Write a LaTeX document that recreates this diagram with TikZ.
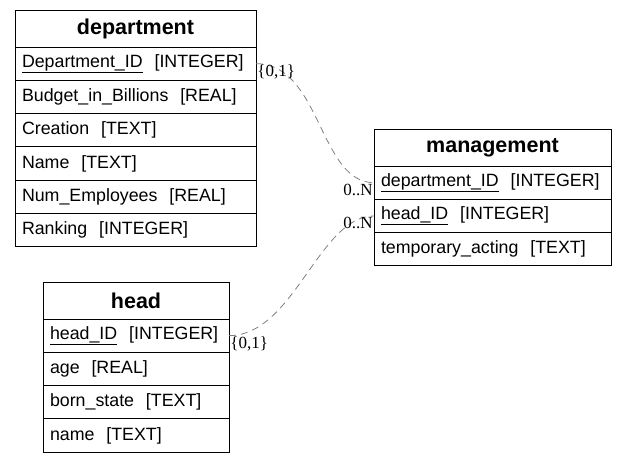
\documentclass[tikz,border=0pt]{standalone}
\usepackage{fontspec}
\setmainfont{Liberation Sans}
\newfontfamily\cardfont{Liberation Serif}
\usetikzlibrary{positioning}
\hyphenpenalty=10000

\tikzset{
  tablehead/.style={draw, line width=1pt, outer sep=0pt, inner sep=0pt,
    minimum width=#1, minimum height=37pt,
    font=\bfseries\fontsize{21.5}{25}\selectfont},
  field/.style={draw, line width=1pt, outer sep=0pt, inner xsep=7pt, inner ysep=0pt,
    text width=#1, minimum height=33.3pt, align=left,
    font=\fontsize{17.8}{21}\selectfont},
  card/.style={inner sep=1pt, text=black, font=\cardfont\fontsize{17}{20}\selectfont},
  link/.style={gray, line width=0.8pt, dash pattern=on 7pt off 5pt}
}

\begin{document}
\begin{tikzpicture}[x=1pt, y=-1pt] % one unit = one pixel, y downwards

    \useasboundingbox (0,0) rectangle (628,464);

    % department table
    \node[tablehead=241pt, anchor=north west] (dept) at (15,10) {department};
    \node[field=227pt, below=0pt of dept] (deptID) {\underline{Department\_ID}~~[INTEGER]};
    \node[field=227pt, below=0pt of deptID] (deptBudget) {Budget\_in\_Billions~~[REAL]};
    \node[field=227pt, below=0pt of deptBudget] (deptCreation) {Creation~~[TEXT]};
    \node[field=227pt, below=0pt of deptCreation] (deptName) {Name~~[TEXT]};
    \node[field=227pt, below=0pt of deptName] (deptNum) {Num\_Employees~~[REAL]};
    \node[field=227pt, below=0pt of deptNum] (deptRank) {Ranking~~[INTEGER]};

    % management table
    \node[tablehead=237pt, anchor=north west] (mg) at (374,129) {management};
    \node[field=223pt, below=0pt of mg] (mgDeptID) {\underline{department\_ID}~~[INTEGER]};
    \node[field=223pt, below=0pt of mgDeptID] (mgHeadID) {\underline{head\_ID}~~[INTEGER]};
    \node[field=223pt, below=0pt of mgHeadID] (mgTemp) {temporary\_acting~~[TEXT]};

    % head table
    \node[tablehead=186pt, anchor=north west] (head) at (43,282) {head};
    \node[field=172pt, below=0pt of head] (headID) {\underline{head\_ID}~~[INTEGER]};
    \node[field=172pt, below=0pt of headID] (headAge) {age~~[REAL]};
    \node[field=172pt, below=0pt of headAge] (headBorn) {born\_state~~[TEXT]};
    \node[field=172pt, below=0pt of headBorn] (headName) {name~~[TEXT]};

    % relations
    \draw[link] (deptID.east) .. controls +(65,0) and +(-55,0) .. (mgDeptID.west)
        node[card, pos=0, anchor=north west] {\{0,1\}}
        node[card, pos=1, anchor=north east] {0..N};
    \draw[link] (headID.east) .. controls +(65,0) and +(-55,0) .. (mgHeadID.west)
        node[card, pos=0, anchor=north west] {\{0,1\}}
        node[card, pos=1, anchor=north east] {0..N};

\end{tikzpicture}
\end{document}
